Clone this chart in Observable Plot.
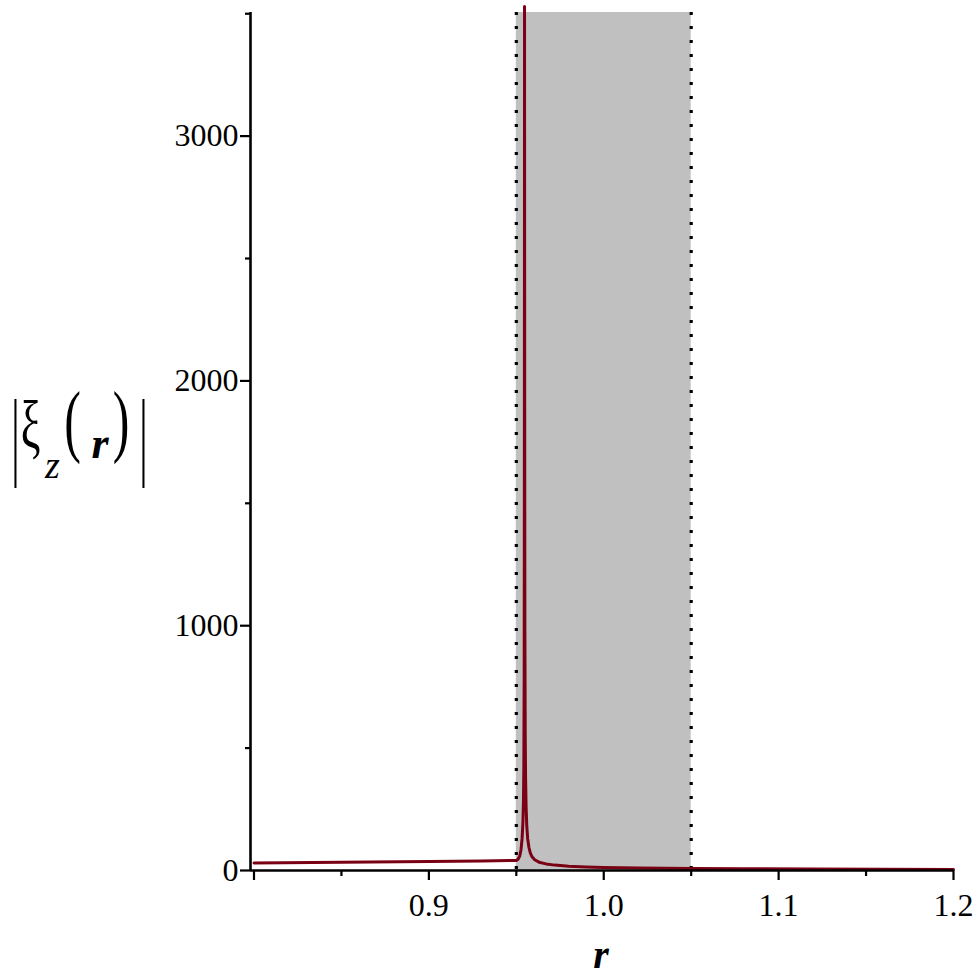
<!DOCTYPE html>
<html>
<head>
<meta charset="utf-8">
<script src="https://cdn.jsdelivr.net/npm/d3@7"></script>
<script src="https://cdn.jsdelivr.net/npm/@observablehq/plot@0.6"></script>
<style>
  html, body { margin: 0; padding: 0; background: white; }
  #chart svg { display: block; }
</style>
</head>
<body>
<div id="chart"></div>
<script>
// Curve |xi_z(r)|
const rValues = [0.8, 0.85, 0.9, 0.93, 0.95, 0.951, 0.952, 0.9527, 0.9533, 0.9538, 0.9541, 0.9543, 0.9545, 0.9546, 0.9547, 0.9548, 0.9549, 0.9551, 0.9553, 0.9556, 0.956, 0.9565, 0.9572, 0.958, 0.959, 0.9605, 0.963, 0.967, 0.972, 0.98, 0.99, 1.0, 1.02, 1.05, 1.08, 1.12, 1.16, 1.2];
const xiValues = [31, 34, 37, 39, 41, 46, 60, 85, 130, 200, 290, 420, 800, 1600, 3530, 1900, 1000, 560, 380, 260, 180, 130, 95, 72, 56, 44, 34, 27, 22, 17, 14, 12, 10, 8, 7, 6, 5, 4.5];

// Shaded band and its dotted borders
const bandEdges = [0.95, 1.05];

// Axis ticks
const xMajorTicks = [0.9, 1.0, 1.1, 1.2];
const xOriginTick = [0.8];
const xMinorTicks = [0.85, 0.95, 1.05, 1.15];
const yMajorTicks = [0, 1000, 2000, 3000];
const yMinorTicks = [500, 1500, 2500, 3500];

const curve = rValues.map((r, i) => ({r, v: xiValues[i]}));
const band = [{x1: bandEdges[0], x2: bandEdges[1]}];

const xDomain = [0.798, 1.2];
const yDomain = [0, 3505];

const chart = Plot.plot({
  width: 976,
  height: 980,
  marginLeft: 250,
  marginRight: 23,
  marginTop: 12,
  marginBottom: 110,
  x: {domain: xDomain},
  y: {domain: yDomain},
  style: {fontFamily: "'Liberation Serif', serif", background: "white", color: "black"},
  marks: [
    Plot.rectX(band, {x1: "x1", x2: "x2", y1: yDomain[0], y2: yDomain[1], fill: "#c0c0c0"}),
    Plot.ruleX(bandEdges, {stroke: "black", strokeWidth: 3.2, strokeDasharray: "3,11"}),
    Plot.line(curve, {x: "r", y: "v", stroke: "#7a0014", strokeWidth: 3, clip: false}),
    Plot.ruleY([yDomain[0]], {stroke: "black", strokeWidth: 2.6}),
    Plot.ruleX([xDomain[0]], {stroke: "black", strokeWidth: 2.6}),
    Plot.axisX({ticks: xMajorTicks, tickFormat: d => d.toFixed(1), tickSize: 10, tickPadding: 13, fontSize: 32, strokeWidth: 2.2, label: null}),
    Plot.axisX({ticks: xOriginTick, tickFormat: () => "", tickSize: 10, strokeWidth: 2.2, label: null}),
    Plot.axisX({ticks: xMinorTicks, tickFormat: () => "", tickSize: 6, strokeWidth: 2.2, label: null}),
    Plot.axisY({ticks: yMajorTicks, tickFormat: d3.format("d"), tickSize: 10, tickPadding: 2, fontSize: 32, strokeWidth: 2.2, label: null}),
    Plot.axisY({ticks: yMinorTicks, tickFormat: () => "", tickSize: 5, strokeWidth: 2.2, label: null})
  ]
});

document.getElementById("chart").appendChild(chart);

// Axis titles typeset like the original
const svg = d3.select(chart);
const serif = "'Liberation Serif', 'Times New Roman', serif";
svg.append("text")
  .attr("x", 601).attr("y", 968)
  .attr("text-anchor", "middle")
  .attr("font-family", serif).attr("font-size", 40)
  .attr("font-style", "italic").attr("font-weight", "bold")
  .text("r");

const yl = svg.append("g").attr("font-family", serif).attr("fill", "black");
yl.append("text").attr("transform", "translate(15.5,467) scale(1,2.3)")
  .attr("text-anchor", "middle").attr("font-size", 42).text("|");
yl.append("text").attr("transform", "translate(30.5,448) scale(0.85,1.3)")
  .attr("text-anchor", "middle").attr("font-size", 52).text("ξ");
yl.append("text").attr("x", 52.5).attr("y", 478)
  .attr("text-anchor", "middle").attr("font-size", 38).attr("font-style", "italic").text("z");
yl.append("text").attr("transform", "translate(72.5,447) scale(1,1.6)")
  .attr("text-anchor", "middle").attr("font-size", 50).text("(");
yl.append("text").attr("x", 100).attr("y", 458)
  .attr("text-anchor", "middle").attr("font-size", 44).attr("font-style", "italic").attr("font-weight", "bold").text("r");
yl.append("text").attr("transform", "translate(121,447) scale(1,1.6)")
  .attr("text-anchor", "middle").attr("font-size", 50).text(")");
yl.append("text").attr("transform", "translate(143.5,467) scale(1,2.3)")
  .attr("text-anchor", "middle").attr("font-size", 42).text("|");
</script>
</body>
</html>
